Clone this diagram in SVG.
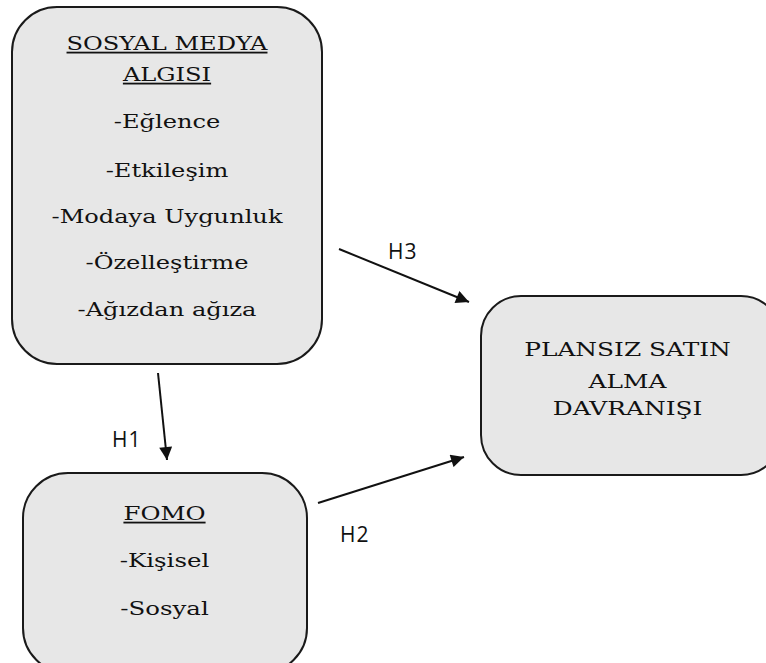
<svg xmlns="http://www.w3.org/2000/svg" width="766" height="663" viewBox="0 0 766 663">
<style>
.box{fill:#e7e7e7;stroke:#1a1a1a;stroke-width:2}
.t{font-family:"DejaVu Serif","Liberation Serif",serif;font-size:18px;fill:#111;text-anchor:middle}
.u{text-decoration:underline}
.h{font-family:"Open Sans","DejaVu Sans",sans-serif;font-size:21px;fill:#111;letter-spacing:1px}
.c{stroke:#111;stroke-width:2;fill:none;marker-end:url(#ah)}
</style>
<defs>
<marker id="ah" viewBox="0 0 10 10" refX="10" refY="5" markerWidth="8" markerHeight="6.5" orient="auto" markerUnits="strokeWidth">
<path d="M0,0 L10,5 L0,10 z" fill="#111"/>
</marker>
</defs>
<rect width="766" height="663" fill="#fff"/>
<g id="sosyal-medya">
<rect class="box" x="12" y="7" width="310" height="357" rx="45" ry="45"/>
<g transform="translate(167 0) scale(1.34 1)">
<text class="t u" x="0" y="50">SOSYAL MEDYA</text>
<text class="t u" x="0" y="81">ALGISI</text>
<text class="t" x="0" y="128">-Eğlence</text>
<text class="t" x="0" y="177">-Etkileşim</text>
<text class="t" x="0" y="223">-Modaya Uygunluk</text>
<text class="t" x="0" y="269">-Özelleştirme</text>
<text class="t" x="0" y="316">-Ağızdan ağıza</text>
</g>
</g>
<g id="fomo">
<rect class="box" x="23" y="473" width="284" height="200" rx="45" ry="45"/>
<g transform="translate(164.5 0) scale(1.36 1)">
<text class="t u" x="0" y="520">FOMO</text>
<text class="t" x="0" y="567">-Kişisel</text>
<text class="t" x="0" y="615">-Sosyal</text>
</g>
</g>
<g id="plansiz">
<rect class="box" x="481" y="296" width="300" height="179" rx="40" ry="40"/>
<g transform="translate(627.5 0) scale(1.38 1)">
<text class="t" x="0" y="356">PLANSIZ SATIN</text>
<text class="t" x="0" y="388">ALMA</text>
<text class="t" x="0" y="415">DAVRANIŞI</text>
</g>
</g>
<g id="connectors">
<line class="c" x1="158" y1="373" x2="167" y2="460"/>
<line class="c" x1="339" y1="249" x2="469" y2="302"/>
<line class="c" x1="318" y1="503" x2="464" y2="457"/>
<text class="h" x="112" y="447">H1</text>
<text class="h" x="340" y="542">H2</text>
<text class="h" x="388" y="259">H3</text>
</g>
</svg>
